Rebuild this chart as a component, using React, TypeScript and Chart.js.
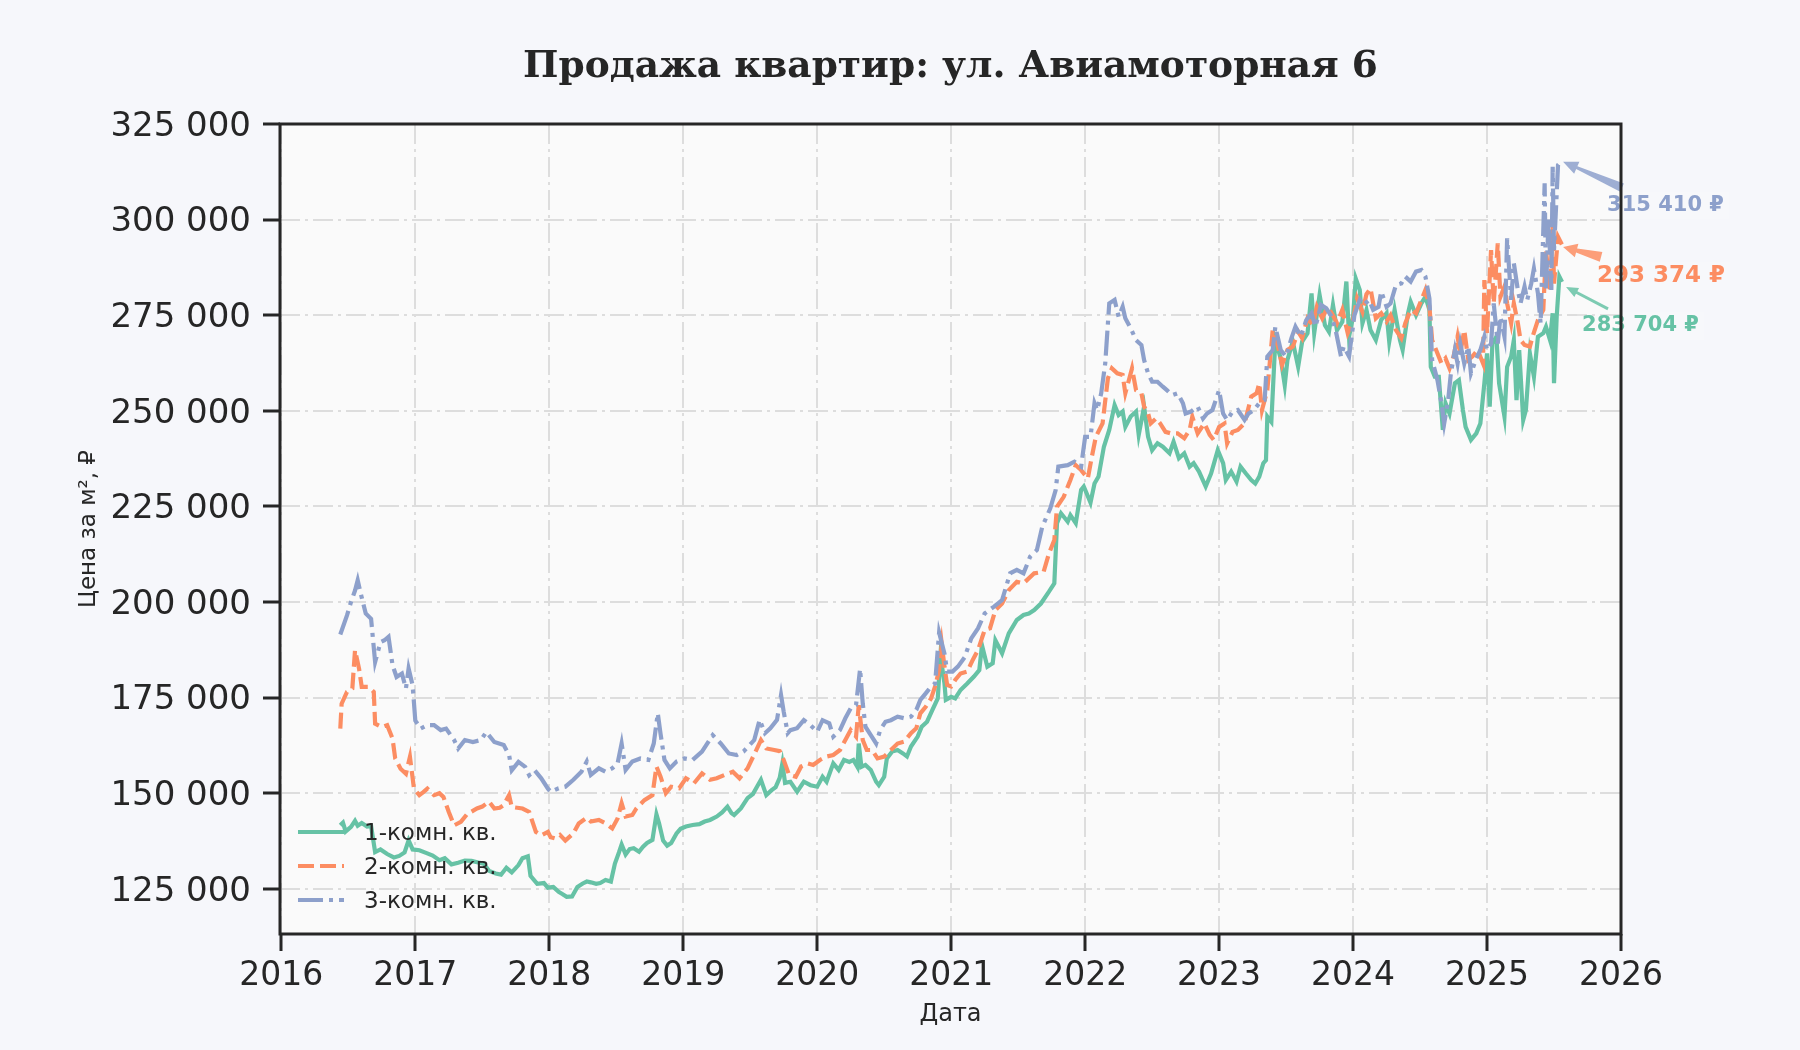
import React, { useEffect, useRef } from 'react';
import { Chart, registerables } from 'chart.js';

Chart.register(...registerables);

const chartTitle = 'Продажа квартир: ул. Авиамоторная 6';
const xAxisTitle = 'Дата';
const yAxisTitle = 'Цена за м², ₽';
const seriesNames = ['1-комн. кв.', '2-комн. кв.', '3-комн. кв.'];
const seriesColors = ['#66c2a5', '#fc8d62', '#8da0cb'];
const yearTicks = [2016, 2017, 2018, 2019, 2020, 2021, 2022, 2023, 2024, 2025, 2026];
const priceTicks = [125000, 150000, 175000, 200000, 225000, 250000, 275000, 300000, 325000];

// [decimal year, price per m²]
const oneRoom: number[][] = [
  [2016.44, 141600], [2016.46, 142300], [2016.48, 140000], [2016.52, 141200], [2016.55, 142800],
  [2016.57, 141500], [2016.60, 142200], [2016.64, 141300], [2016.67, 141400], [2016.70, 134600],
  [2016.74, 135300], [2016.79, 134100], [2016.84, 133200], [2016.88, 133600], [2016.92, 134500],
  [2016.95, 137700], [2016.98, 135300], [2017.03, 135100], [2017.08, 134400], [2017.13, 133700],
  [2017.18, 132500], [2017.22, 133000], [2017.27, 131400], [2017.32, 131800], [2017.37, 132400],
  [2017.42, 132300], [2017.47, 131900], [2017.51, 131600], [2017.55, 129700], [2017.60, 129000],
  [2017.64, 128700], [2017.68, 130500], [2017.72, 129300], [2017.77, 131200], [2017.80, 133000],
  [2017.84, 133500], [2017.86, 128400], [2017.91, 126300], [2017.96, 126500], [2017.99, 125300],
  [2018.03, 125500], [2018.07, 124200], [2018.10, 123600], [2018.13, 122900], [2018.17, 123000],
  [2018.21, 125500], [2018.25, 126400], [2018.28, 126900], [2018.31, 126700], [2018.35, 126300],
  [2018.38, 126500], [2018.42, 127300], [2018.46, 126900], [2018.49, 131600], [2018.52, 134500],
  [2018.54, 136600], [2018.57, 134000], [2018.60, 135400], [2018.63, 135600], [2018.67, 134700],
  [2018.70, 136000], [2018.73, 137000], [2018.77, 137800], [2018.80, 144500], [2018.82, 142100],
  [2018.85, 137600], [2018.88, 136300], [2018.91, 137000], [2018.95, 139500], [2018.98, 140700],
  [2019.02, 141300], [2019.07, 141700], [2019.12, 141900], [2019.16, 142600], [2019.20, 143000],
  [2019.25, 143900], [2019.29, 145000], [2019.33, 146500], [2019.36, 144800], [2019.38, 144300],
  [2019.43, 146000], [2019.48, 148700], [2019.52, 149800], [2019.58, 153500], [2019.62, 149500],
  [2019.66, 150800], [2019.69, 151600], [2019.72, 154000], [2019.74, 157800], [2019.76, 152700],
  [2019.80, 153000], [2019.85, 150400], [2019.90, 153000], [2019.95, 152100], [2020.00, 151700],
  [2020.04, 154300], [2020.07, 153000], [2020.12, 157800], [2020.16, 156100], [2020.20, 158700],
  [2020.24, 158200], [2020.27, 158700], [2020.30, 156900], [2020.31, 163000], [2020.33, 156900],
  [2020.36, 157400], [2020.40, 156100], [2020.44, 153000], [2020.46, 152100], [2020.50, 154300],
  [2020.52, 159100], [2020.56, 160900], [2020.60, 161300], [2020.64, 160400], [2020.67, 159600],
  [2020.70, 162200], [2020.75, 164800], [2020.78, 167400], [2020.82, 168700], [2020.86, 171800],
  [2020.90, 174800], [2020.92, 186000], [2020.95, 178700], [2020.96, 174400], [2021.00, 175200],
  [2021.03, 174800], [2021.07, 177000], [2021.12, 178700], [2021.17, 180500], [2021.21, 182200],
  [2021.23, 188700], [2021.27, 183100], [2021.31, 184000], [2021.33, 190000], [2021.38, 186600],
  [2021.43, 191800], [2021.49, 195300], [2021.54, 196600], [2021.58, 197000], [2021.62, 197900],
  [2021.67, 199600], [2021.73, 202700], [2021.77, 204900], [2021.79, 220600], [2021.82, 223200],
  [2021.87, 221000], [2021.89, 222700], [2021.93, 220600], [2021.97, 229300], [2021.99, 230200],
  [2022.04, 226000], [2022.07, 231000], [2022.10, 232800], [2022.14, 240600], [2022.18, 245000],
  [2022.22, 251500], [2022.25, 248900], [2022.28, 249800], [2022.30, 245800], [2022.34, 248500],
  [2022.38, 249800], [2022.40, 243700], [2022.44, 251100], [2022.47, 243200], [2022.50, 239700],
  [2022.54, 241500], [2022.58, 240600], [2022.63, 238900], [2022.66, 241900], [2022.70, 237600],
  [2022.74, 238900], [2022.78, 235400], [2022.81, 236300], [2022.85, 234100], [2022.90, 230200],
  [2022.94, 233600], [2022.99, 239700], [2023.03, 236300], [2023.05, 231900], [2023.09, 234100],
  [2023.13, 231500], [2023.16, 235400], [2023.20, 233600], [2023.24, 231900], [2023.27, 231000],
  [2023.30, 232800], [2023.33, 236300], [2023.35, 237100], [2023.36, 248500], [2023.39, 247100],
  [2023.41, 261500], [2023.42, 268500], [2023.46, 263700], [2023.49, 256700], [2023.51, 263300],
  [2023.55, 268100], [2023.59, 261500], [2023.62, 268100], [2023.66, 270300], [2023.69, 280700],
  [2023.71, 270300], [2023.75, 280300], [2023.79, 272400], [2023.82, 270700], [2023.85, 277700],
  [2023.88, 271100], [2023.92, 273300], [2023.95, 283800], [2023.97, 269400], [2024.00, 274600],
  [2024.02, 284600], [2024.05, 281600], [2024.07, 272900], [2024.10, 276400], [2024.13, 271100],
  [2024.17, 268500], [2024.21, 273800], [2024.25, 275500], [2024.27, 268100], [2024.31, 276400],
  [2024.35, 268500], [2024.37, 265900], [2024.41, 275500], [2024.43, 278500], [2024.47, 275000],
  [2024.51, 278100], [2024.54, 279800], [2024.57, 276400], [2024.58, 261500], [2024.61, 258900],
  [2024.64, 258900], [2024.67, 245000], [2024.69, 252000], [2024.72, 249300], [2024.76, 257200],
  [2024.79, 258000], [2024.82, 250200], [2024.84, 245800], [2024.88, 242400], [2024.92, 244100],
  [2024.95, 246700], [2024.98, 257200], [2025.00, 265000], [2025.02, 251100], [2025.04, 267600],
  [2025.07, 269400], [2025.09, 257200], [2025.13, 248500], [2025.15, 261500], [2025.18, 264200],
  [2025.20, 268500], [2025.22, 252800], [2025.24, 265900], [2025.27, 247600], [2025.29, 250200],
  [2025.32, 265000], [2025.35, 258900], [2025.38, 269400], [2025.42, 270300], [2025.44, 272000],
  [2025.47, 268500], [2025.49, 275500], [2025.50, 257200], [2025.52, 274600], [2025.54, 285100],
  [2025.56, 283704],
];

const twoRoom: number[][] = [
  [2016.44, 166900], [2016.45, 173400], [2016.49, 176500], [2016.53, 177400], [2016.55, 187400],
  [2016.58, 182600], [2016.60, 177800], [2016.65, 177800], [2016.69, 176500], [2016.70, 168200],
  [2016.75, 167300], [2016.79, 167800], [2016.83, 164300], [2016.85, 159100], [2016.89, 156400],
  [2016.93, 155100], [2016.96, 159500], [2016.99, 151200], [2017.03, 149500], [2017.06, 150300],
  [2017.09, 151200], [2017.14, 149500], [2017.18, 150000], [2017.21, 149000], [2017.25, 145100],
  [2017.29, 141600], [2017.34, 142500], [2017.39, 144700], [2017.42, 145200], [2017.46, 146000],
  [2017.50, 146500], [2017.55, 147800], [2017.59, 146000], [2017.63, 146200], [2017.66, 146900],
  [2017.70, 149500], [2017.72, 146400], [2017.76, 146200], [2017.80, 146000], [2017.85, 145100],
  [2017.90, 139900], [2017.94, 139000], [2017.99, 139900], [2018.01, 138500], [2018.04, 138200],
  [2018.08, 139100], [2018.12, 137600], [2018.18, 139500], [2018.22, 142100], [2018.28, 143600],
  [2018.31, 142600], [2018.37, 143000], [2018.42, 142100], [2018.47, 140800], [2018.51, 143400],
  [2018.54, 147400], [2018.57, 143900], [2018.62, 144300], [2018.65, 146000], [2018.71, 148200],
  [2018.77, 149500], [2018.80, 157000], [2018.83, 154400], [2018.87, 150000], [2018.91, 151700],
  [2018.97, 151300], [2019.02, 153900], [2019.08, 152600], [2019.14, 155200], [2019.20, 153500],
  [2019.25, 153900], [2019.31, 154800], [2019.37, 155600], [2019.42, 153900], [2019.48, 156500],
  [2019.54, 160900], [2019.58, 163900], [2019.62, 161700], [2019.68, 161300], [2019.72, 161000],
  [2019.75, 158700], [2019.79, 154800], [2019.84, 154300], [2019.88, 157000], [2019.93, 157800],
  [2019.97, 157400], [2020.02, 158700], [2020.07, 159600], [2020.12, 160000], [2020.17, 161300],
  [2020.21, 163900], [2020.25, 166500], [2020.29, 164800], [2020.31, 173000], [2020.34, 163900],
  [2020.37, 161300], [2020.41, 161300], [2020.45, 159100], [2020.50, 159600], [2020.55, 161300],
  [2020.60, 163000], [2020.65, 163500], [2020.70, 165700], [2020.74, 167000], [2020.77, 170900],
  [2020.81, 172600], [2020.85, 174800], [2020.88, 177900], [2020.91, 182200], [2020.93, 189000],
  [2020.95, 183100], [2020.97, 178300], [2021.00, 177900], [2021.03, 179600], [2021.07, 181300],
  [2021.12, 181800], [2021.16, 184800], [2021.20, 187400], [2021.25, 192700], [2021.29, 193100],
  [2021.33, 197900], [2021.38, 199600], [2021.43, 203100], [2021.49, 205300], [2021.54, 204900],
  [2021.62, 207500], [2021.69, 207900], [2021.73, 212700], [2021.77, 216200], [2021.79, 224900],
  [2021.84, 227500], [2021.89, 231900], [2021.93, 235800], [2021.97, 234500], [2022.02, 232300],
  [2022.05, 238000], [2022.08, 243200], [2022.13, 246700], [2022.17, 258500], [2022.20, 261100],
  [2022.24, 259800], [2022.28, 259400], [2022.30, 254600], [2022.35, 261100], [2022.38, 255400],
  [2022.42, 254600], [2022.44, 251100], [2022.47, 249300], [2022.49, 246700], [2022.53, 248000],
  [2022.56, 246700], [2022.60, 244500], [2022.64, 244100], [2022.69, 244100], [2022.74, 242800],
  [2022.78, 245000], [2022.80, 248500], [2022.84, 244100], [2022.89, 246700], [2022.93, 243700],
  [2022.96, 242400], [2023.00, 245800], [2023.04, 246700], [2023.06, 241500], [2023.10, 244500],
  [2023.14, 245000], [2023.19, 246700], [2023.24, 253700], [2023.28, 254600], [2023.30, 257200],
  [2023.32, 250200], [2023.36, 255400], [2023.40, 271100], [2023.44, 266800], [2023.47, 262000],
  [2023.51, 265900], [2023.55, 266800], [2023.59, 270700], [2023.62, 269000], [2023.66, 274200],
  [2023.70, 272400], [2023.73, 277200], [2023.77, 274200], [2023.81, 277200], [2023.85, 275000],
  [2023.88, 272900], [2023.92, 276400], [2023.96, 270300], [2024.00, 273700], [2024.03, 279400],
  [2024.07, 275900], [2024.10, 280500], [2024.13, 282000], [2024.17, 274200], [2024.21, 275500],
  [2024.25, 273300], [2024.28, 275000], [2024.32, 271100], [2024.36, 269000], [2024.39, 272900],
  [2024.43, 276400], [2024.47, 275500], [2024.51, 279000], [2024.54, 281600], [2024.57, 277200],
  [2024.59, 268500], [2024.62, 265900], [2024.66, 262400], [2024.69, 263700], [2024.72, 261100],
  [2024.75, 264200], [2024.78, 269400], [2024.80, 265000], [2024.83, 271100], [2024.86, 263300],
  [2024.89, 264200], [2024.93, 265900], [2024.97, 262400], [2024.98, 284200], [2025.00, 270300],
  [2025.03, 292000], [2025.05, 278100], [2025.08, 293800], [2025.10, 279800], [2025.13, 282500],
  [2025.15, 278100], [2025.18, 272900], [2025.20, 278100], [2025.23, 272900], [2025.25, 268500],
  [2025.28, 267200], [2025.32, 266800], [2025.34, 269400], [2025.38, 273700], [2025.42, 276400],
  [2025.44, 292000], [2025.47, 281600], [2025.49, 298100], [2025.50, 283300], [2025.53, 295500],
  [2025.56, 293374],
];

const threeRoom: number[][] = [
  [2016.44, 191500], [2016.49, 196500], [2016.52, 200000], [2016.55, 203000], [2016.57, 205700],
  [2016.59, 202600], [2016.63, 197000], [2016.67, 195600], [2016.70, 184300], [2016.74, 189500],
  [2016.77, 190000], [2016.80, 190900], [2016.83, 183500], [2016.86, 180400], [2016.90, 181300],
  [2016.93, 177400], [2016.95, 182600], [2016.98, 178200], [2017.00, 169000], [2017.04, 166900],
  [2017.09, 167800], [2017.14, 167800], [2017.19, 166500], [2017.23, 166900], [2017.29, 163900],
  [2017.32, 161700], [2017.37, 163900], [2017.43, 163400], [2017.49, 163900], [2017.53, 166000],
  [2017.59, 163400], [2017.66, 162600], [2017.70, 160000], [2017.72, 156000], [2017.77, 158200],
  [2017.82, 156900], [2017.85, 154700], [2017.89, 156000], [2017.94, 153900], [2017.99, 151200],
  [2018.01, 150400], [2018.07, 151300], [2018.12, 151700], [2018.18, 153500], [2018.24, 155600],
  [2018.28, 158300], [2018.31, 154800], [2018.37, 156500], [2018.42, 155600], [2018.47, 156500],
  [2018.51, 157800], [2018.54, 163000], [2018.57, 156100], [2018.62, 158300], [2018.68, 159100],
  [2018.74, 158700], [2018.78, 163000], [2018.81, 170900], [2018.83, 165700], [2018.86, 158700],
  [2018.90, 156500], [2018.95, 158300], [2019.01, 159100], [2019.07, 158700], [2019.14, 160900],
  [2019.22, 165200], [2019.28, 163000], [2019.34, 160400], [2019.40, 160000], [2019.45, 160900],
  [2019.53, 163900], [2019.57, 169200], [2019.61, 165700], [2019.65, 167000], [2019.70, 169200],
  [2019.73, 175700], [2019.75, 171300], [2019.78, 165700], [2019.80, 166500], [2019.85, 167000],
  [2019.90, 169100], [2019.95, 167800], [2020.00, 166100], [2020.04, 169100], [2020.09, 168300],
  [2020.12, 164800], [2020.17, 166500], [2020.21, 169600], [2020.25, 172200], [2020.29, 173100],
  [2020.32, 182500], [2020.34, 173500], [2020.36, 167400], [2020.40, 165200], [2020.44, 163000],
  [2020.47, 166500], [2020.51, 168700], [2020.55, 169100], [2020.60, 170000], [2020.65, 169600],
  [2020.70, 170000], [2020.74, 171800], [2020.77, 174400], [2020.81, 176100], [2020.85, 177900],
  [2020.88, 178700], [2020.91, 192000], [2020.95, 186500], [2020.97, 181800], [2021.01, 181800],
  [2021.05, 183100], [2021.10, 185500], [2021.15, 190500], [2021.20, 193100], [2021.25, 197000],
  [2021.32, 198800], [2021.38, 200500], [2021.44, 207500], [2021.49, 208400], [2021.54, 207500],
  [2021.59, 211900], [2021.64, 213600], [2021.68, 219700], [2021.74, 224500], [2021.78, 229300],
  [2021.80, 235400], [2021.87, 235800], [2021.92, 236700], [2021.97, 235400], [2022.00, 243200],
  [2022.04, 243200], [2022.07, 252000], [2022.09, 250200], [2022.12, 254600], [2022.15, 262400],
  [2022.18, 278100], [2022.22, 279000], [2022.25, 274600], [2022.28, 277200], [2022.30, 274200],
  [2022.34, 271600], [2022.38, 268500], [2022.42, 267200], [2022.44, 263300], [2022.47, 259800],
  [2022.50, 257600], [2022.54, 257600], [2022.58, 256300], [2022.61, 255400], [2022.65, 254100],
  [2022.69, 254600], [2022.73, 252000], [2022.75, 249300], [2022.79, 249800], [2022.84, 251100],
  [2022.88, 248000], [2022.91, 249300], [2022.95, 250200], [2023.00, 255400], [2023.03, 249300],
  [2023.06, 247600], [2023.10, 249800], [2023.14, 250200], [2023.19, 247600], [2023.22, 249300],
  [2023.26, 250200], [2023.30, 252000], [2023.34, 252800], [2023.36, 264200], [2023.40, 265900],
  [2023.42, 272000], [2023.46, 265900], [2023.50, 264200], [2023.54, 269000], [2023.57, 272000],
  [2023.61, 269400], [2023.65, 273700], [2023.69, 275500], [2023.72, 272000], [2023.76, 277700],
  [2023.80, 276800], [2023.84, 274600], [2023.87, 271100], [2023.91, 264200], [2023.93, 266800],
  [2023.97, 264200], [2024.01, 275000], [2024.05, 279000], [2024.08, 277700], [2024.12, 279000],
  [2024.15, 276400], [2024.19, 277200], [2024.21, 281200], [2024.25, 277200], [2024.28, 278100],
  [2024.32, 282900], [2024.36, 283300], [2024.39, 285100], [2024.43, 283800], [2024.47, 286400],
  [2024.51, 286800], [2024.54, 285100], [2024.57, 279400], [2024.59, 263300], [2024.63, 258000],
  [2024.66, 252000], [2024.68, 246700], [2024.71, 252800], [2024.73, 259800], [2024.76, 265900],
  [2024.78, 262400], [2024.80, 267600], [2024.83, 262400], [2024.86, 266800], [2024.88, 259800],
  [2024.92, 263700], [2024.95, 265900], [2024.98, 269400], [2025.00, 265900], [2025.03, 267600],
  [2025.05, 278100], [2025.08, 267600], [2025.10, 274600], [2025.13, 269400], [2025.15, 295100],
  [2025.18, 279000], [2025.20, 288600], [2025.23, 281600], [2025.25, 278100], [2025.28, 282500],
  [2025.30, 279000], [2025.33, 283300], [2025.35, 287200], [2025.38, 280700], [2025.40, 272900],
  [2025.43, 309500], [2025.44, 281600], [2025.46, 300800], [2025.48, 281600], [2025.49, 313800],
  [2025.50, 292000], [2025.53, 314300], [2025.56, 315410],
];

const allSeries = [oneRoom, twoRoom, threeRoom];

const PAGE_BG = '#f6f7fb';
const PLOT_BG = '#fafafa';
const INK = '#262626';
const FONT = '"DejaVu Sans", "Liberation Sans", sans-serif';
const DASHES: number[][] = [[], [16, 6], [25, 6, 4, 6]];

const fmtThousands = (v: number) =>
  String(Math.round(v)).replace(/\B(?=(\d{3})+(?!\d))/g, ' ');

function fancyArrow(
  ctx: CanvasRenderingContext2D,
  x1: number, y1: number, x2: number, y2: number,
  tailW: number, neckW: number, headL: number, headW: number, color: string,
) {
  const dx = x2 - x1, dy = y2 - y1;
  const len = Math.hypot(dx, dy);
  const ux = dx / len, uy = dy / len;
  const px = -uy, py = ux;
  const bx = x2 - ux * headL, by = y2 - uy * headL;
  ctx.beginPath();
  ctx.moveTo(x1 + px * tailW / 2, y1 + py * tailW / 2);
  ctx.lineTo(bx + px * neckW / 2, by + py * neckW / 2);
  ctx.lineTo(bx + px * headW / 2, by + py * headW / 2);
  ctx.lineTo(x2, y2);
  ctx.lineTo(bx - px * headW / 2, by - py * headW / 2);
  ctx.lineTo(bx - px * neckW / 2, by - py * neckW / 2);
  ctx.lineTo(x1 - px * tailW / 2, y1 - py * tailW / 2);
  ctx.closePath();
  ctx.fillStyle = color;
  ctx.fill();
}

const decorPlugin = {
  id: 'decor',
  beforeDraw(chart: any) {
    const { ctx, chartArea: a, width, height } = chart;
    ctx.save();
    ctx.fillStyle = PAGE_BG;
    ctx.fillRect(0, 0, width, height);
    ctx.fillStyle = PLOT_BG;
    ctx.fillRect(a.left, a.top, a.right - a.left, a.bottom - a.top);
    ctx.restore();
  },
  afterDatasetsDraw(chart: any) {
    const { ctx } = chart;
    const xs = chart.scales.x, ys = chart.scales.y;
    ctx.save();
    // legend
    const rows = [832, 866, 900];
    seriesNames.forEach((name, i) => {
      ctx.strokeStyle = seriesColors[i];
      ctx.lineWidth = 4;
      ctx.setLineDash(DASHES[i]);
      ctx.beginPath();
      ctx.moveTo(298, rows[i]);
      ctx.lineTo(344, rows[i]);
      ctx.stroke();
      ctx.setLineDash([]);
      ctx.fillStyle = INK;
      ctx.font = `23px ${FONT}`;
      ctx.textAlign = 'left';
      ctx.textBaseline = 'middle';
      ctx.fillText(name, 364, rows[i] + 2);
    });
    // last-value annotations
    const cfg = [
      { tip: [4, 5], tail: [46, 27], text: [20, 44], size: 21, tailW: 3, neckW: 3, headL: 12, headW: 10 },
      { tip: [1, 2], tail: [39, 12], text: [35, 31], size: 23, tailW: 10, neckW: 4, headL: 14, headW: 14 },
      { tip: [1, 1], tail: [60, 27], text: [45, 45], size: 21, tailW: 9, neckW: 3, headL: 15, headW: 13 },
    ];
    allSeries.forEach((s, i) => {
      const last = s[s.length - 1];
      const px = xs.getPixelForValue(last[0]);
      const py = ys.getPixelForValue(last[1]);
      const c = cfg[i];
      ctx.globalAlpha = 0.85;
      fancyArrow(ctx, px + c.tail[0], py + c.tail[1], px + c.tip[0], py + c.tip[1],
        c.tailW, c.neckW, c.headL, c.headW, seriesColors[i]);
      ctx.globalAlpha = 1;
      const label = `${fmtThousands(last[1])} ₽`;
      ctx.font = `bold ${c.size}px ${FONT}`;
      const w = ctx.measureText(label).width;
      ctx.fillStyle = 'rgba(255,255,255,0.15)';
      ctx.fillRect(px + c.text[0] - 5, py + c.text[1] - 14, w + 10, 28);
      ctx.fillStyle = seriesColors[i];
      ctx.textAlign = 'left';
      ctx.textBaseline = 'middle';
      ctx.fillText(label, px + c.text[0], py + c.text[1]);
    });
    ctx.restore();
  },
  afterDraw(chart: any) {
    const { ctx, chartArea: a } = chart;
    ctx.save();
    // frame
    ctx.strokeStyle = INK;
    ctx.lineWidth = 3;
    ctx.strokeRect(a.left, a.top, a.right - a.left, a.bottom - a.top);
    // title
    ctx.fillStyle = INK;
    ctx.font = 'bold 37.5px "DejaVu Serif", "Liberation Serif", serif';
    ctx.textAlign = 'center';
    ctx.textBaseline = 'alphabetic';
    ctx.fillText(chartTitle, (a.left + a.right) / 2, 77);
    // x title
    ctx.font = `24px ${FONT}`;
    ctx.fillText(xAxisTitle, (a.left + a.right) / 2, 1021);
    // y title
    ctx.translate(89, (a.top + a.bottom) / 2);
    ctx.rotate(-Math.PI / 2);
    ctx.font = `23px ${FONT}`;
    ctx.textBaseline = 'middle';
    ctx.fillText(yAxisTitle, 0, 0);
    ctx.restore();
  },
};

export default function App() {
  const ref = useRef<HTMLCanvasElement>(null);
  useEffect(() => {
    document.body.style.margin = '0';
    document.body.style.background = PAGE_BG;
    const canvas = ref.current;
    if (!canvas) return;
    const chart = new Chart(canvas, {
      type: 'line',
      data: {
        datasets: allSeries.map((s, i) => ({
          label: seriesNames[i],
          data: s.map(([x, y]) => ({ x, y })),
          borderColor: seriesColors[i],
          backgroundColor: seriesColors[i],
          borderWidth: 4.2,
          borderDash: DASHES[i],
          pointRadius: 0,
          pointHoverRadius: 0,
          tension: 0,
          fill: false,
          order: 3 - i,
        })),
      },
      options: {
        responsive: false,
        animation: false,
        events: [],
        layout: { padding: { top: 124, right: 179, bottom: 0, left: 0 } },
        plugins: {
          legend: { display: false },
          title: { display: false },
          tooltip: { enabled: false },
        },
        scales: {
          x: {
            type: 'linear',
            position: 'bottom',
            min: 2015.99,
            max: 2026,
            bounds: 'data',
            afterFit: (s: any) => { s.height = 116; },
            afterBuildTicks: (s: any) => { s.ticks = yearTicks.map((v) => ({ value: v })); },
            ticks: {
              autoSkip: false,
              maxRotation: 0,
              padding: 6,
              color: INK,
              font: { family: FONT, size: 33 },
              callback: (v: any) => String(v),
            },
            grid: {
              color: '#dddddd',
              lineWidth: 2,
              drawTicks: true,
              tickLength: 17,
              tickWidth: 3,
              tickColor: INK,
              tickBorderDash: [],
            },
            border: { display: false, dash: [20, 5, 3, 5] },
          },
          y: {
            type: 'linear',
            position: 'left',
            min: 113185,
            max: 325000,
            bounds: 'data',
            afterFit: (s: any) => { s.width = 280; },
            afterBuildTicks: (s: any) => { s.ticks = priceTicks.map((v) => ({ value: v })); },
            ticks: {
              padding: 12,
              labelOffset: 3,
              color: INK,
              font: { family: FONT, size: 34 },
              callback: (v: any) => fmtThousands(Number(v)),
            },
            grid: {
              color: '#dddddd',
              lineWidth: 2,
              drawTicks: true,
              tickLength: 17,
              tickWidth: 3,
              tickColor: INK,
              tickBorderDash: [],
            },
            border: { display: false, dash: [20, 5, 3, 5] },
          },
        },
      },
      plugins: [decorPlugin],
    } as any);
    return () => chart.destroy();
  }, []);
  return (
    <div style={{ width: 1800, height: 1050 }}>
      <canvas ref={ref} width={1800} height={1050} style={{ display: 'block', width: 1800, height: 1050 }} />
    </div>
  );
}
